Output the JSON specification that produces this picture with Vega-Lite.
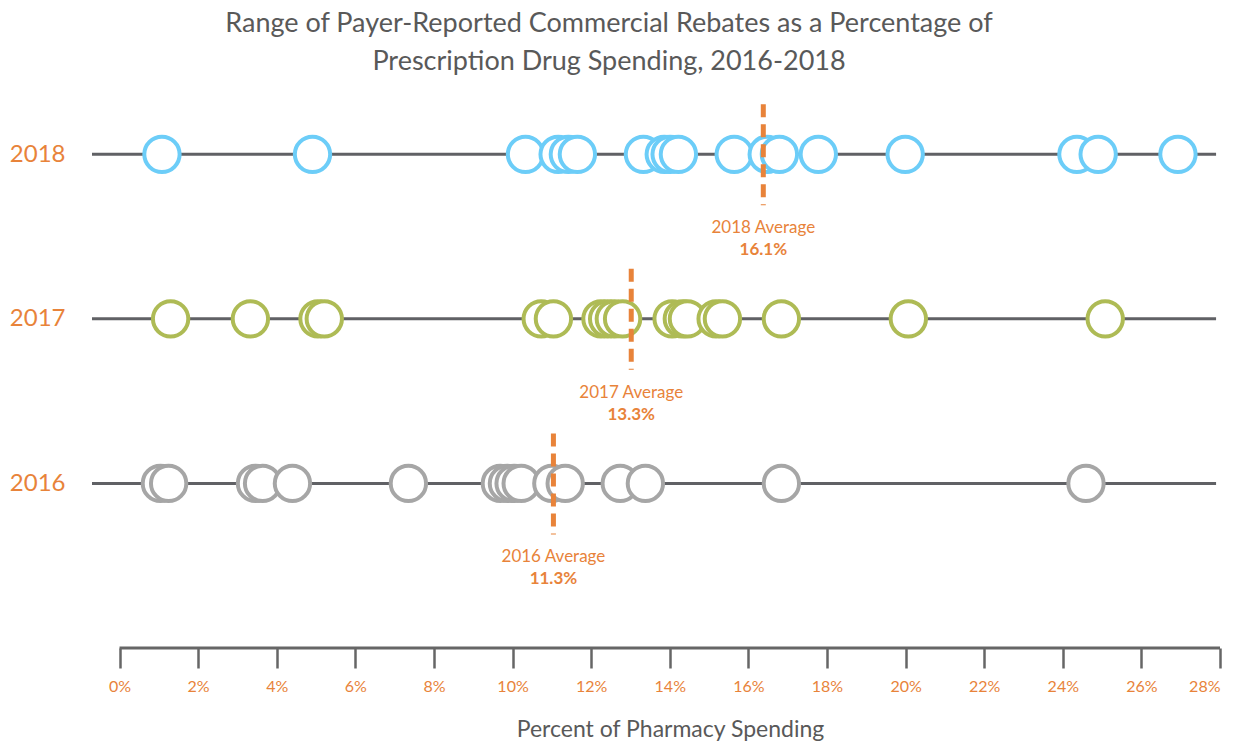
{
  "$schema": "https://vega.github.io/schema/vega-lite/v6.json",
  "autosize": {"type": "none"},
  "padding": {"left": 92, "top": 100, "right": 27, "bottom": 99},
  "width": 1128,
  "height": 548,
  "background": "white",
  "config": {
    "font": "Lato",
    "view": {"stroke": null},
    "axis": {"grid": false}
  },
  "title": {
    "text": ["Range of Payer-Reported Commercial Rebates as a Percentage of", "Prescription Drug Spending, 2016-2018"],
    "fontSize": 27,
    "fontWeight": "normal",
    "color": "#595959",
    "lineHeight": 38,
    "anchor": "middle",
    "dx": -47,
    "offset": 24
  },
  "datasets": {
    "points": [
      {"year": 2018, "pct": 1.08}, {"year": 2018, "pct": 4.91}, {"year": 2018, "pct": 10.33},
      {"year": 2018, "pct": 11.16}, {"year": 2018, "pct": 11.42}, {"year": 2018, "pct": 11.65},
      {"year": 2018, "pct": 13.33}, {"year": 2018, "pct": 13.86}, {"year": 2018, "pct": 14.01},
      {"year": 2018, "pct": 14.22}, {"year": 2018, "pct": 15.64}, {"year": 2018, "pct": 16.48},
      {"year": 2018, "pct": 16.79}, {"year": 2018, "pct": 17.78}, {"year": 2018, "pct": 19.99},
      {"year": 2018, "pct": 24.36}, {"year": 2018, "pct": 24.9}, {"year": 2018, "pct": 26.93},
      {"year": 2017, "pct": 1.3}, {"year": 2017, "pct": 3.33}, {"year": 2017, "pct": 5.05},
      {"year": 2017, "pct": 5.21}, {"year": 2017, "pct": 10.73}, {"year": 2017, "pct": 11.04},
      {"year": 2017, "pct": 12.25}, {"year": 2017, "pct": 12.42}, {"year": 2017, "pct": 12.59},
      {"year": 2017, "pct": 12.8}, {"year": 2017, "pct": 14.06}, {"year": 2017, "pct": 14.32},
      {"year": 2017, "pct": 14.45}, {"year": 2017, "pct": 15.18}, {"year": 2017, "pct": 15.34},
      {"year": 2017, "pct": 16.84}, {"year": 2017, "pct": 20.07}, {"year": 2017, "pct": 25.08},
      {"year": 2016, "pct": 1.04}, {"year": 2016, "pct": 1.25}, {"year": 2016, "pct": 3.46},
      {"year": 2016, "pct": 3.64}, {"year": 2016, "pct": 4.4}, {"year": 2016, "pct": 7.35},
      {"year": 2016, "pct": 9.69}, {"year": 2016, "pct": 9.87}, {"year": 2016, "pct": 10.04},
      {"year": 2016, "pct": 10.22}, {"year": 2016, "pct": 11.0}, {"year": 2016, "pct": 11.34},
      {"year": 2016, "pct": 12.74}, {"year": 2016, "pct": 13.38}, {"year": 2016, "pct": 16.84},
      {"year": 2016, "pct": 24.59}
    ],
    "averages": [
      {"year": 2018, "pos": 16.38, "label": "2018 Average", "value": "16.1%"},
      {"year": 2017, "pos": 13.02, "label": "2017 Average", "value": "13.3%"},
      {"year": 2016, "pos": 11.04, "label": "2016 Average", "value": "11.3%"}
    ]
  },
  "layer": [
    {
      "data": {"name": "averages"},
      "mark": {"type": "rule", "color": "#606165", "strokeWidth": 3},
      "encoding": {
        "x": {"datum": -0.7, "type": "quantitative",
          "scale": {"domain": [-0.7, 28], "nice": false, "zero": false},
          "axis": {
            "values": [0, 2, 4, 6, 8, 10, 12, 14, 16, 18, 20, 22, 24, 26, 28],
            "labelExpr": "datum.value + '%'",
            "domain": false,
            "tickSize": 20,
            "tickWidth": 2.5,
            "tickColor": "#666666",
            "labelColor": "#E8833A",
            "labelFontSize": 16,
            "labelPadding": 10,
            "title": "Percent of Pharmacy Spending",
            "titleFontSize": 23,
            "titleFontWeight": "normal",
            "titleColor": "#595959",
            "titlePadding": 24,
            "titleX": 578
          }
        },
        "x2": {"datum": 27.9},
        "y": {"field": "year", "type": "quantitative",
          "scale": {"domain": [2015, 2018.33], "nice": false, "zero": false},
          "axis": {
            "values": [2016, 2017, 2018],
            "format": "d",
            "domain": false,
            "ticks": false,
            "labelFontSize": 24,
            "labelColor": "#E8833A",
            "labelPadding": 27,
            "title": null
          }
        }
      }
    },
    {
      "data": {"values": [{}]},
      "mark": {"type": "rule", "color": "#666666", "strokeWidth": 3},
      "encoding": {
        "x": {"datum": 0, "type": "quantitative"},
        "x2": {"datum": 28},
        "y": {"datum": 2015, "type": "quantitative"}
      }
    },
    {
      "data": {"name": "points"},
      "mark": {"type": "point", "shape": "circle", "filled": false, "fill": "white", "fillOpacity": 1, "size": 1250, "strokeWidth": 4, "opacity": 1},
      "encoding": {
        "x": {"field": "pct", "type": "quantitative"},
        "y": {"field": "year", "type": "quantitative"},
        "stroke": {"field": "year", "type": "ordinal",
          "scale": {"domain": [2016, 2017, 2018], "range": ["#A6A6A6", "#AEBB55", "#6CCDF8"]},
          "legend": null}
      }
    },
    {
      "data": {"name": "averages"},
      "mark": {"type": "rule", "color": "#E8833A", "strokeWidth": 5, "strokeDash": [13, 7], "yOffset": -50, "y2Offset": 51},
      "encoding": {
        "x": {"field": "pos", "type": "quantitative"},
        "y": {"field": "year", "type": "quantitative"},
        "y2": {"field": "year"}
      }
    },
    {
      "data": {"name": "averages"},
      "mark": {"type": "text", "color": "#E8833A", "fontSize": 17, "dy": 74, "align": "center", "baseline": "middle"},
      "encoding": {
        "x": {"field": "pos", "type": "quantitative"},
        "y": {"field": "year", "type": "quantitative"},
        "text": {"field": "label"}
      }
    },
    {
      "data": {"name": "averages"},
      "mark": {"type": "text", "color": "#E8833A", "fontSize": 17, "fontWeight": "bold", "dy": 96, "align": "center", "baseline": "middle"},
      "encoding": {
        "x": {"field": "pos", "type": "quantitative"},
        "y": {"field": "year", "type": "quantitative"},
        "text": {"field": "value"}
      }
    }
  ]
}
